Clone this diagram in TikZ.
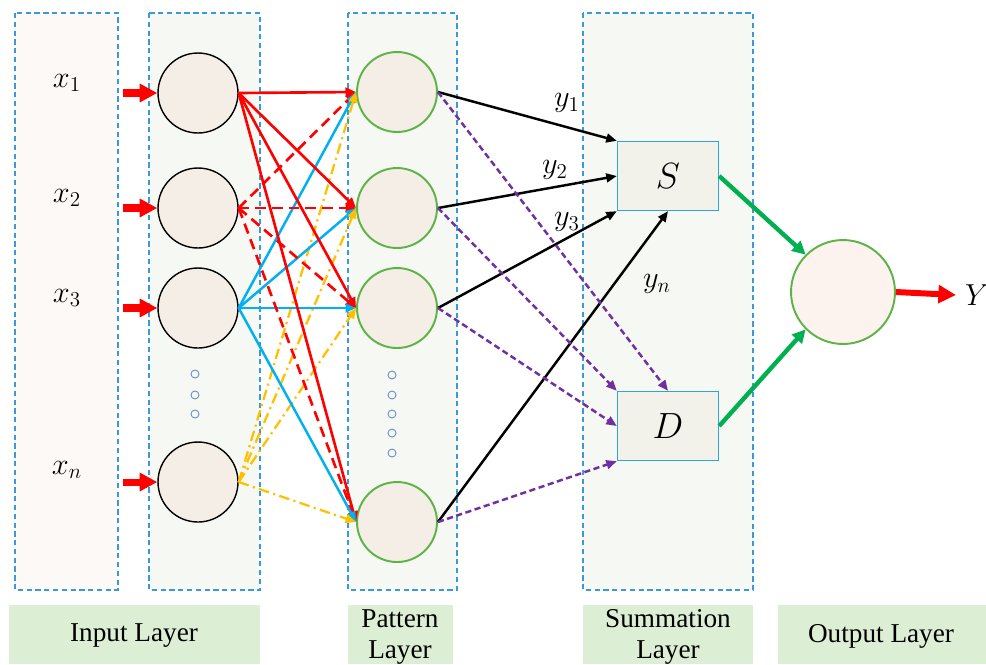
\documentclass[tikz,border=0pt]{standalone}
\usepackage{fontspec}
\setmainfont{Liberation Serif}
\usetikzlibrary{arrows.meta}

\definecolor{dashblue}{HTML}{3A9AD9}
\definecolor{colpink}{HTML}{FDF9F6}
\definecolor{colgray}{HTML}{F6F8F3}
\definecolor{tagfill}{HTML}{DCEFD4}
\definecolor{cellfill}{HTML}{F5EEE6}
\definecolor{cellgreen}{HTML}{5DB346}
\definecolor{sumfill}{HTML}{F2F2EA}
\definecolor{sumblue}{HTML}{2EA6DC}
\definecolor{linkred}{HTML}{FF0000}
\definecolor{linkcyan}{HTML}{00B0F0}
\definecolor{linkgold}{HTML}{FFC000}
\definecolor{linkpurple}{HTML}{7030A0}
\definecolor{linkgreen}{HTML}{00B050}
\definecolor{dotblue}{HTML}{6A8CC7}
\definecolor{outfill}{HTML}{FCF3EE}

\tikzset{
  layer/.style={draw=dashblue, line width=0.7pt, dash pattern=on 3pt off 2pt},
  tagtext/.style={font=\fontsize{15.5}{18}\selectfont, align=center},
  inneuron/.style={circle, draw=black, line width=0.8pt, fill=cellfill, minimum size=1.6cm, inner sep=0pt},
  patneuron/.style={circle, draw=cellgreen, line width=1.1pt, fill=cellfill, minimum size=1.6cm, inner sep=0pt},
  outneuron/.style={circle, draw=cellgreen, line width=1.1pt, fill=outfill, minimum size=2.08cm, inner sep=0pt},
  sumbox/.style={draw=sumblue, line width=0.8pt, fill=sumfill, minimum width=2.02cm, minimum height=1.38cm, font=\fontsize{21}{25}\selectfont},
  sdot/.style={circle, draw=dotblue, line width=0.5pt, minimum size=0.16cm, inner sep=0pt},
  mathlbl/.style={font=\fontsize{17}{20}\selectfont},
  smallhead/.style={-{Triangle[length=6pt,width=5pt]}},
  redlink/.style={smallhead, draw=linkred, line width=1.5pt},
  reddash/.style={redlink, dash pattern=on 6pt off 3.5pt},
  cyanlink/.style={smallhead, draw=linkcyan, line width=1.4pt},
  goldlink/.style={smallhead, draw=linkgold, line width=1.3pt, dash pattern=on 6pt off 2.5pt on 1.2pt off 2.5pt},
  blacklink/.style={smallhead, draw=black, line width=1.4pt},
  purplelink/.style={smallhead, draw=linkpurple, line width=1.4pt, dash pattern=on 3.5pt off 2pt},
  greenlink/.style={-{Triangle[length=7.5pt,width=7.5pt]}, draw=linkgreen, line width=2.5pt},
  inarrow/.style={-{Triangle[length=10pt,width=10pt]}, draw=linkred, line width=4pt}
}

\begin{document}
\begin{tikzpicture}[x=0.02cm, y=-0.02cm]
  \clip (0,0) rectangle (986,664);

  % layer columns
  \draw[layer, fill=colpink] (15,13) rectangle (118,590);
  \draw[layer, fill=colgray] (149,13) rectangle (260,590);
  \draw[layer, fill=colgray] (348,13) rectangle (457,590);
  \draw[layer, fill=colgray] (583,13) rectangle (753,590);

  % layer names
  \fill[tagfill] (9,605) rectangle (260,664);
  \fill[tagfill] (348,605) rectangle (453,664);
  \fill[tagfill] (583,605) rectangle (753,664);
  \fill[tagfill] (778,605) rectangle (986,664);
  \node[tagtext] (tagI) at (134,636) {Input Layer};
  \node[tagtext] (tagP) at (400,637) {Pattern\\Layer};
  \node[tagtext] (tagS) at (668,637) {Summation\\Layer};
  \node[tagtext] (tagO) at (881,636) {Output Layer};

  % inputs
  \node[mathlbl] (x1) at (67,83) {$x_1$};
  \node[mathlbl] (x2) at (67,198) {$x_2$};
  \node[mathlbl] (x3) at (67,298) {$x_3$};
  \node[mathlbl] (xn) at (67,470) {$x_n$};

  % input neurons
  \node[inneuron] (I1) at (198,93) {};
  \node[inneuron] (I2) at (198,208) {};
  \node[inneuron] (I3) at (198,308) {};
  \node[inneuron] (In) at (198,482) {};
  \foreach \y in {374,395,414}
    \node[sdot] (dI\y) at (195,\y) {};

  % pattern neurons
  \node[patneuron] (P1) at (397,92) {};
  \node[patneuron] (P2) at (397,208) {};
  \node[patneuron] (P3) at (397,308) {};
  \node[patneuron] (Pn) at (397,522) {};
  \foreach \y in {375,395,414,433,453}
    \node[sdot] (dP\y) at (392,\y) {};

  % summation and output
  \node[sumbox] (S) at (668,176) {$S$};
  \node[sumbox] (D) at (668,426) {$D$};
  \node[outneuron] (O) at (843,292) {};
  \node[font=\fontsize{19}{22}\selectfont, inner sep=5pt] (Y) at (977,295) {$Y$};

  % input arrows
  \foreach \i/\y in {1/93,2/208,3/308,n/482} {
    \coordinate (a\i) at (123,\y);
    \draw[inarrow] (a\i) -- (I\i.west);
  }

  % input to pattern
  \foreach \p in {P1,P2,P3,Pn} {
    \draw[redlink] (I1.east) -- (\p.west);
    \draw[reddash] (I2.east) -- (\p.west);
    \draw[cyanlink] (I3.east) -- (\p.west);
    \draw[goldlink] (In.east) -- (\p.west);
  }

  % pattern to summation
  \draw[blacklink] (P1.east) -- (S.north west);
  \draw[blacklink] (P2.east) -- (S.west);
  \draw[blacklink] (P3.east) -- (S.south west);
  \draw[blacklink] (Pn.east) -- (S.south);
  \draw[purplelink] (P1.east) -- (D.north);
  \draw[purplelink] (P2.east) -- (D.north west);
  \draw[purplelink] (P3.east) -- (D.west);
  \draw[purplelink] (Pn.east) -- (D.south west);

  \node[mathlbl] (y1) at (567,103) {$y_1$};
  \node[mathlbl] (y2) at (555,170) {$y_2$};
  \node[mathlbl] (y3) at (567,222) {$y_3$};
  \node[mathlbl] (yn) at (657,284) {$y_n$};

  % summation to output
  \draw[greenlink] (S.east) -- (O.135);
  \draw[greenlink] (D.east) -- (O.225);
  \draw[inarrow, line width=3.4pt] (O.east) -- (Y.west);
\end{tikzpicture}
\end{document}
